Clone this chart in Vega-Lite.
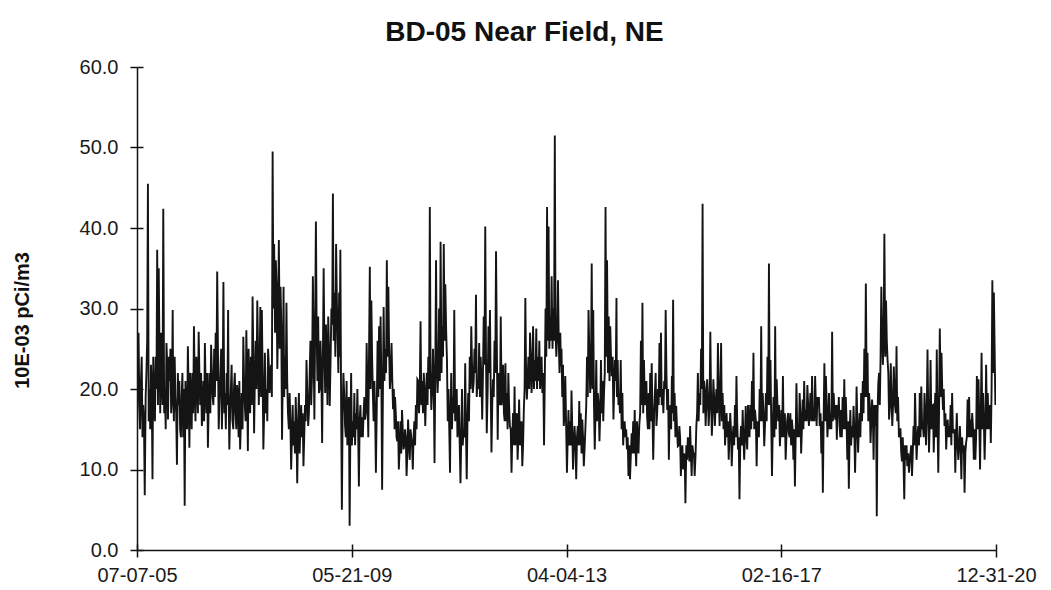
{
"$schema": "https://vega.github.io/schema/vega-lite/v6.json",
"width": 859,
"height": 483,
"autosize": {"type": "none"},
"padding": {"left": 137, "top": 67, "right": 55, "bottom": 40},
"background": "white",
"title": {"text": "BD-05 Near Field, NE", "font": "Liberation Sans", "fontSize": 28, "fontWeight": "bold", "color": "#111111", "anchor": "middle", "dx": -42, "offset": 10},
"data": {"values": [
{"d":"2005-07-07","v":14},{"d":"2005-07-12","v":22},{"d":"2005-07-17","v":27},{"d":"2005-07-22","v":19},{"d":"2005-07-27","v":15},
{"d":"2005-08-02","v":21},{"d":"2005-08-07","v":24},{"d":"2005-08-12","v":14},{"d":"2005-08-17","v":18},{"d":"2005-08-22","v":16},{"d":"2005-08-27","v":6.8},
{"d":"2005-09-02","v":19},{"d":"2005-09-07","v":22},{"d":"2005-09-12","v":26},{"d":"2005-09-17","v":45.5},{"d":"2005-09-22","v":16},{"d":"2005-09-27","v":20},
{"d":"2005-10-02","v":15},{"d":"2005-10-07","v":23},{"d":"2005-10-12","v":20},{"d":"2005-10-17","v":8.8},{"d":"2005-10-22","v":24},{"d":"2005-10-27","v":19},
{"d":"2005-11-02","v":16},{"d":"2005-11-07","v":24},{"d":"2005-11-12","v":20},{"d":"2005-11-17","v":37.3},{"d":"2005-11-22","v":18},{"d":"2005-11-27","v":35},
{"d":"2005-12-02","v":25},{"d":"2005-12-07","v":17},{"d":"2005-12-12","v":27},{"d":"2005-12-17","v":22},{"d":"2005-12-22","v":18},{"d":"2005-12-27","v":42.4},
{"d":"2006-01-02","v":17},{"d":"2006-01-07","v":20},{"d":"2006-01-12","v":15},{"d":"2006-01-17","v":25.7},{"d":"2006-01-22","v":23},{"d":"2006-01-27","v":16.2},
{"d":"2006-02-02","v":24},{"d":"2006-02-07","v":21},{"d":"2006-02-12","v":25},{"d":"2006-02-17","v":17},{"d":"2006-02-22","v":19},{"d":"2006-02-27","v":29.8},
{"d":"2006-03-02","v":20},{"d":"2006-03-07","v":16},{"d":"2006-03-12","v":24},{"d":"2006-03-17","v":19},{"d":"2006-03-22","v":17},{"d":"2006-03-27","v":10.6},
{"d":"2006-04-02","v":22},{"d":"2006-04-07","v":18},{"d":"2006-04-12","v":21},{"d":"2006-04-17","v":15},{"d":"2006-04-22","v":14},{"d":"2006-04-27","v":19},
{"d":"2006-05-02","v":22},{"d":"2006-05-07","v":14},{"d":"2006-05-12","v":20},{"d":"2006-05-17","v":5.5},{"d":"2006-05-22","v":21},{"d":"2006-05-27","v":17},
{"d":"2006-06-02","v":15},{"d":"2006-06-07","v":25.3},{"d":"2006-06-12","v":20},{"d":"2006-06-17","v":12.7},{"d":"2006-06-22","v":22},{"d":"2006-06-27","v":19},
{"d":"2006-07-02","v":15},{"d":"2006-07-07","v":22},{"d":"2006-07-12","v":17},{"d":"2006-07-17","v":27.8},{"d":"2006-07-22","v":21},{"d":"2006-07-27","v":16},
{"d":"2006-08-02","v":24},{"d":"2006-08-07","v":21},{"d":"2006-08-12","v":17},{"d":"2006-08-17","v":27.1},{"d":"2006-08-22","v":22},{"d":"2006-08-27","v":18},
{"d":"2006-09-02","v":22},{"d":"2006-09-07","v":15.4},{"d":"2006-09-12","v":17},{"d":"2006-09-17","v":21},{"d":"2006-09-22","v":16},{"d":"2006-09-27","v":25.7},
{"d":"2006-10-02","v":20},{"d":"2006-10-07","v":17},{"d":"2006-10-12","v":22},{"d":"2006-10-17","v":12.7},{"d":"2006-10-22","v":18},{"d":"2006-10-27","v":22},
{"d":"2006-11-02","v":17},{"d":"2006-11-07","v":25.5},{"d":"2006-11-12","v":22},{"d":"2006-11-17","v":19},{"d":"2006-11-22","v":18},{"d":"2006-11-27","v":25},
{"d":"2006-12-02","v":19},{"d":"2006-12-07","v":27},{"d":"2006-12-12","v":21},{"d":"2006-12-17","v":34.6},{"d":"2006-12-22","v":25},{"d":"2006-12-27","v":15},
{"d":"2007-01-02","v":19},{"d":"2007-01-07","v":22},{"d":"2007-01-12","v":25},{"d":"2007-01-17","v":15},{"d":"2007-01-22","v":20},{"d":"2007-01-27","v":33.3},
{"d":"2007-02-02","v":17},{"d":"2007-02-07","v":19.5},{"d":"2007-02-12","v":15},{"d":"2007-02-17","v":22},{"d":"2007-02-22","v":18},{"d":"2007-02-27","v":29.8},
{"d":"2007-03-02","v":20},{"d":"2007-03-07","v":12.5},{"d":"2007-03-12","v":17},{"d":"2007-03-17","v":20},{"d":"2007-03-22","v":23},{"d":"2007-03-27","v":16.2},
{"d":"2007-04-02","v":15},{"d":"2007-04-07","v":20.3},{"d":"2007-04-12","v":22},{"d":"2007-04-17","v":17},{"d":"2007-04-22","v":15},{"d":"2007-04-27","v":20.5},
{"d":"2007-05-02","v":19},{"d":"2007-05-07","v":14},{"d":"2007-05-12","v":21},{"d":"2007-05-17","v":12.5},{"d":"2007-05-22","v":16},{"d":"2007-05-27","v":19.5},
{"d":"2007-06-02","v":15},{"d":"2007-06-07","v":26.5},{"d":"2007-06-12","v":21},{"d":"2007-06-17","v":18},{"d":"2007-06-22","v":16},{"d":"2007-06-27","v":27.3},
{"d":"2007-07-02","v":21},{"d":"2007-07-07","v":12.3},{"d":"2007-07-12","v":25},{"d":"2007-07-17","v":20},{"d":"2007-07-22","v":17},{"d":"2007-07-27","v":24},
{"d":"2007-08-02","v":18},{"d":"2007-08-07","v":31.5},{"d":"2007-08-12","v":24},{"d":"2007-08-17","v":14.5},{"d":"2007-08-22","v":21},{"d":"2007-08-27","v":26},
{"d":"2007-09-02","v":20},{"d":"2007-09-07","v":31},{"d":"2007-09-12","v":25},{"d":"2007-09-17","v":18},{"d":"2007-09-22","v":22},{"d":"2007-09-27","v":30.2},
{"d":"2007-10-02","v":19},{"d":"2007-10-07","v":29.8},{"d":"2007-10-12","v":22},{"d":"2007-10-17","v":12.5},{"d":"2007-10-22","v":17},{"d":"2007-10-27","v":24.5},
{"d":"2007-11-02","v":17},{"d":"2007-11-07","v":20},{"d":"2007-11-12","v":16},{"d":"2007-11-17","v":25},{"d":"2007-11-22","v":23},{"d":"2007-11-27","v":19.5},
{"d":"2007-12-02","v":22},{"d":"2007-12-07","v":23},{"d":"2007-12-12","v":19},{"d":"2007-12-17","v":49.5},{"d":"2007-12-22","v":30},{"d":"2007-12-27","v":38},
{"d":"2008-01-02","v":27},{"d":"2008-01-07","v":36},{"d":"2008-01-12","v":33},{"d":"2008-01-17","v":22.5},{"d":"2008-01-22","v":28},{"d":"2008-01-27","v":38.5},
{"d":"2008-02-02","v":25},{"d":"2008-02-07","v":32.7},{"d":"2008-02-12","v":28},{"d":"2008-02-17","v":13.7},{"d":"2008-02-22","v":22},{"d":"2008-02-27","v":32.7},
{"d":"2008-03-02","v":19},{"d":"2008-03-07","v":24},{"d":"2008-03-12","v":20},{"d":"2008-03-17","v":30.7},{"d":"2008-03-22","v":21},{"d":"2008-03-27","v":17},
{"d":"2008-04-02","v":15},{"d":"2008-04-07","v":19.5},{"d":"2008-04-12","v":16},{"d":"2008-04-17","v":10},{"d":"2008-04-22","v":14},{"d":"2008-04-27","v":18},
{"d":"2008-05-02","v":13},{"d":"2008-05-07","v":16},{"d":"2008-05-12","v":12},{"d":"2008-05-17","v":19},{"d":"2008-05-22","v":15},{"d":"2008-05-27","v":8.3},
{"d":"2008-06-02","v":16},{"d":"2008-06-07","v":19.5},{"d":"2008-06-12","v":12},{"d":"2008-06-17","v":15.4},{"d":"2008-06-22","v":18},{"d":"2008-06-27","v":14},
{"d":"2008-07-02","v":17},{"d":"2008-07-07","v":10.4},{"d":"2008-07-12","v":14},{"d":"2008-07-17","v":18},{"d":"2008-07-22","v":16},{"d":"2008-07-27","v":23.6},
{"d":"2008-08-02","v":19},{"d":"2008-08-07","v":15.4},{"d":"2008-08-12","v":17},{"d":"2008-08-17","v":22},{"d":"2008-08-22","v":26},{"d":"2008-08-27","v":18},
{"d":"2008-09-02","v":22},{"d":"2008-09-07","v":34},{"d":"2008-09-12","v":25},{"d":"2008-09-17","v":16.2},{"d":"2008-09-22","v":28},{"d":"2008-09-27","v":40.8},
{"d":"2008-10-02","v":27},{"d":"2008-10-07","v":21},{"d":"2008-10-12","v":29},{"d":"2008-10-17","v":19.5},{"d":"2008-10-22","v":20},{"d":"2008-10-27","v":26},
{"d":"2008-11-02","v":22},{"d":"2008-11-07","v":13.3},{"d":"2008-11-12","v":24},{"d":"2008-11-17","v":35},{"d":"2008-11-22","v":25},{"d":"2008-11-27","v":19.5},
{"d":"2008-12-02","v":28},{"d":"2008-12-07","v":24},{"d":"2008-12-12","v":18},{"d":"2008-12-17","v":29},{"d":"2008-12-22","v":25},{"d":"2008-12-27","v":17.9},
{"d":"2009-01-02","v":24},{"d":"2009-01-07","v":30},{"d":"2009-01-12","v":28},{"d":"2009-01-17","v":44.3},{"d":"2009-01-22","v":26},{"d":"2009-01-27","v":32},
{"d":"2009-02-02","v":24},{"d":"2009-02-07","v":38},{"d":"2009-02-12","v":31},{"d":"2009-02-17","v":26},{"d":"2009-02-22","v":22},{"d":"2009-02-27","v":32},
{"d":"2009-03-02","v":24},{"d":"2009-03-07","v":37.3},{"d":"2009-03-12","v":18},{"d":"2009-03-17","v":5.0},{"d":"2009-03-22","v":17},{"d":"2009-03-27","v":22},
{"d":"2009-04-02","v":19},{"d":"2009-04-07","v":15.4},{"d":"2009-04-12","v":14},{"d":"2009-04-17","v":21},{"d":"2009-04-22","v":13},{"d":"2009-04-27","v":17},
{"d":"2009-05-02","v":19},{"d":"2009-05-07","v":3.0},{"d":"2009-05-12","v":15},{"d":"2009-05-17","v":22},{"d":"2009-05-22","v":13},{"d":"2009-05-27","v":16},
{"d":"2009-06-02","v":14},{"d":"2009-06-07","v":19.5},{"d":"2009-06-12","v":13},{"d":"2009-06-17","v":17},{"d":"2009-06-22","v":15},{"d":"2009-06-27","v":20},
{"d":"2009-07-02","v":15},{"d":"2009-07-07","v":7.9},{"d":"2009-07-12","v":16},{"d":"2009-07-17","v":18},{"d":"2009-07-22","v":14},{"d":"2009-07-27","v":16.5},
{"d":"2009-08-02","v":14},{"d":"2009-08-07","v":17},{"d":"2009-08-12","v":19},{"d":"2009-08-17","v":16.2},{"d":"2009-08-22","v":17},{"d":"2009-08-27","v":25.7},
{"d":"2009-09-02","v":19},{"d":"2009-09-07","v":14},{"d":"2009-09-12","v":25},{"d":"2009-09-17","v":35.2},{"d":"2009-09-22","v":20},{"d":"2009-09-27","v":31},
{"d":"2009-10-02","v":24},{"d":"2009-10-07","v":19.5},{"d":"2009-10-12","v":16},{"d":"2009-10-17","v":21},{"d":"2009-10-22","v":17},{"d":"2009-10-27","v":9.6},
{"d":"2009-11-02","v":18},{"d":"2009-11-07","v":26},{"d":"2009-11-12","v":19},{"d":"2009-11-17","v":27.8},{"d":"2009-11-22","v":20},{"d":"2009-11-27","v":29},
{"d":"2009-12-02","v":21},{"d":"2009-12-07","v":7.5},{"d":"2009-12-12","v":19},{"d":"2009-12-17","v":30.2},{"d":"2009-12-22","v":21},{"d":"2009-12-27","v":25},
{"d":"2010-01-02","v":22},{"d":"2010-01-07","v":36},{"d":"2010-01-12","v":24},{"d":"2010-01-17","v":32.7},{"d":"2010-01-22","v":25},{"d":"2010-01-27","v":20},
{"d":"2010-02-02","v":22},{"d":"2010-02-07","v":25.7},{"d":"2010-02-12","v":21},{"d":"2010-02-17","v":17.5},{"d":"2010-02-22","v":20},{"d":"2010-02-27","v":15},
{"d":"2010-03-02","v":19},{"d":"2010-03-07","v":17},{"d":"2010-03-12","v":14},{"d":"2010-03-17","v":13.5},{"d":"2010-03-22","v":16},{"d":"2010-03-27","v":10},
{"d":"2010-04-02","v":13},{"d":"2010-04-07","v":16},{"d":"2010-04-12","v":12},{"d":"2010-04-17","v":17.4},{"d":"2010-04-22","v":15},{"d":"2010-04-27","v":12.5},
{"d":"2010-05-02","v":13},{"d":"2010-05-07","v":15},{"d":"2010-05-12","v":14},{"d":"2010-05-17","v":9.2},{"d":"2010-05-22","v":12},{"d":"2010-05-27","v":16.2},
{"d":"2010-06-02","v":13},{"d":"2010-06-07","v":11.2},{"d":"2010-06-12","v":15},{"d":"2010-06-17","v":14},{"d":"2010-06-22","v":13},{"d":"2010-06-27","v":10},
{"d":"2010-07-02","v":14},{"d":"2010-07-07","v":16},{"d":"2010-07-12","v":13},{"d":"2010-07-17","v":18},{"d":"2010-07-22","v":15},{"d":"2010-07-27","v":21.2},
{"d":"2010-08-02","v":21},{"d":"2010-08-07","v":17},{"d":"2010-08-12","v":20},{"d":"2010-08-17","v":28.4},{"d":"2010-08-22","v":18},{"d":"2010-08-27","v":21},
{"d":"2010-09-02","v":17},{"d":"2010-09-07","v":22},{"d":"2010-09-12","v":20},{"d":"2010-09-17","v":15.4},{"d":"2010-09-22","v":19},{"d":"2010-09-27","v":22},
{"d":"2010-10-02","v":18},{"d":"2010-10-07","v":24},{"d":"2010-10-12","v":20},{"d":"2010-10-17","v":42.6},{"d":"2010-10-22","v":22},{"d":"2010-10-27","v":17.4},
{"d":"2010-11-02","v":20},{"d":"2010-11-07","v":25},{"d":"2010-11-12","v":21},{"d":"2010-11-17","v":10.8},{"d":"2010-11-22","v":22},{"d":"2010-11-27","v":36},
{"d":"2010-12-02","v":23},{"d":"2010-12-07","v":19.5},{"d":"2010-12-12","v":22},{"d":"2010-12-17","v":30},{"d":"2010-12-22","v":21},{"d":"2010-12-27","v":38.3},
{"d":"2011-01-02","v":22},{"d":"2011-01-07","v":27.8},{"d":"2011-01-12","v":24},{"d":"2011-01-17","v":38},{"d":"2011-01-22","v":26},{"d":"2011-01-27","v":33},
{"d":"2011-02-02","v":27},{"d":"2011-02-07","v":23.6},{"d":"2011-02-12","v":16},{"d":"2011-02-17","v":20},{"d":"2011-02-22","v":15},{"d":"2011-02-27","v":9.6},
{"d":"2011-03-02","v":16},{"d":"2011-03-07","v":22},{"d":"2011-03-12","v":15},{"d":"2011-03-17","v":19},{"d":"2011-03-22","v":17},{"d":"2011-03-27","v":29.8},
{"d":"2011-04-02","v":16},{"d":"2011-04-07","v":19.5},{"d":"2011-04-12","v":20},{"d":"2011-04-17","v":14},{"d":"2011-04-22","v":16},{"d":"2011-04-27","v":18},
{"d":"2011-05-02","v":13},{"d":"2011-05-07","v":8.3},{"d":"2011-05-12","v":14},{"d":"2011-05-17","v":20},{"d":"2011-05-22","v":13},{"d":"2011-05-27","v":15},
{"d":"2011-06-02","v":14},{"d":"2011-06-07","v":23.2},{"d":"2011-06-12","v":15},{"d":"2011-06-17","v":8.8},{"d":"2011-06-22","v":16},{"d":"2011-06-27","v":19.5},
{"d":"2011-07-02","v":16},{"d":"2011-07-07","v":24},{"d":"2011-07-12","v":20},{"d":"2011-07-17","v":27.8},{"d":"2011-07-22","v":23},{"d":"2011-07-27","v":19.5},
{"d":"2011-08-02","v":21},{"d":"2011-08-07","v":25},{"d":"2011-08-12","v":22},{"d":"2011-08-17","v":31.7},{"d":"2011-08-22","v":19},{"d":"2011-08-27","v":21},
{"d":"2011-09-02","v":20},{"d":"2011-09-07","v":25.7},{"d":"2011-09-12","v":19},{"d":"2011-09-17","v":24},{"d":"2011-09-22","v":21},{"d":"2011-09-27","v":16.2},
{"d":"2011-10-02","v":22},{"d":"2011-10-07","v":29},{"d":"2011-10-12","v":23},{"d":"2011-10-17","v":40.2},{"d":"2011-10-22","v":24},{"d":"2011-10-27","v":14.5},
{"d":"2011-11-02","v":20},{"d":"2011-11-07","v":27.8},{"d":"2011-11-12","v":22},{"d":"2011-11-17","v":29.8},{"d":"2011-11-22","v":20},{"d":"2011-11-27","v":12.1},
{"d":"2011-12-02","v":18},{"d":"2011-12-07","v":21.2},{"d":"2011-12-12","v":19},{"d":"2011-12-17","v":26},{"d":"2011-12-22","v":22},{"d":"2011-12-27","v":37.1},
{"d":"2012-01-02","v":24},{"d":"2012-01-07","v":13.7},{"d":"2012-01-12","v":22},{"d":"2012-01-17","v":20},{"d":"2012-01-22","v":18},{"d":"2012-01-27","v":29},
{"d":"2012-02-02","v":18},{"d":"2012-02-07","v":20},{"d":"2012-02-12","v":23},{"d":"2012-02-17","v":17},{"d":"2012-02-22","v":16},{"d":"2012-02-27","v":23.2},
{"d":"2012-03-02","v":16},{"d":"2012-03-07","v":19.5},{"d":"2012-03-12","v":15},{"d":"2012-03-17","v":22},{"d":"2012-03-22","v":18},{"d":"2012-03-27","v":15.4},
{"d":"2012-04-02","v":15},{"d":"2012-04-07","v":9.6},{"d":"2012-04-12","v":14},{"d":"2012-04-17","v":17},{"d":"2012-04-22","v":13},{"d":"2012-04-27","v":20.3},
{"d":"2012-05-02","v":13},{"d":"2012-05-07","v":15.4},{"d":"2012-05-12","v":17},{"d":"2012-05-17","v":11.2},{"d":"2012-05-22","v":14},{"d":"2012-05-27","v":18.7},
{"d":"2012-06-02","v":13},{"d":"2012-06-07","v":14},{"d":"2012-06-12","v":16},{"d":"2012-06-17","v":10.4},{"d":"2012-06-22","v":13},{"d":"2012-06-27","v":17.4},
{"d":"2012-07-02","v":20},{"d":"2012-07-07","v":31.3},{"d":"2012-07-12","v":22},{"d":"2012-07-17","v":18.7},{"d":"2012-07-22","v":21},{"d":"2012-07-27","v":24},
{"d":"2012-08-02","v":20},{"d":"2012-08-07","v":27},{"d":"2012-08-12","v":24},{"d":"2012-08-17","v":19.5},{"d":"2012-08-22","v":22},{"d":"2012-08-27","v":27.8},
{"d":"2012-09-02","v":20},{"d":"2012-09-07","v":23.6},{"d":"2012-09-12","v":21},{"d":"2012-09-17","v":27.5},{"d":"2012-09-22","v":20},{"d":"2012-09-27","v":24},
{"d":"2012-10-02","v":21},{"d":"2012-10-07","v":26},{"d":"2012-10-12","v":20},{"d":"2012-10-17","v":22},{"d":"2012-10-22","v":24},{"d":"2012-10-27","v":19.5},
{"d":"2012-11-02","v":22},{"d":"2012-11-07","v":13},{"d":"2012-11-12","v":21},{"d":"2012-11-17","v":30},{"d":"2012-11-22","v":24},{"d":"2012-11-27","v":42.6},
{"d":"2012-12-02","v":26},{"d":"2012-12-07","v":40.2},{"d":"2012-12-12","v":25},{"d":"2012-12-17","v":29},{"d":"2012-12-22","v":26},{"d":"2012-12-27","v":34},
{"d":"2013-01-02","v":25},{"d":"2013-01-07","v":30},{"d":"2013-01-12","v":26},{"d":"2013-01-17","v":51.5},{"d":"2013-01-22","v":27},{"d":"2013-01-27","v":24},
{"d":"2013-02-02","v":27},{"d":"2013-02-07","v":33.5},{"d":"2013-02-12","v":26},{"d":"2013-02-17","v":22},{"d":"2013-02-22","v":27},{"d":"2013-02-27","v":22.8},
{"d":"2013-03-02","v":25},{"d":"2013-03-07","v":19},{"d":"2013-03-12","v":23},{"d":"2013-03-17","v":15.4},{"d":"2013-03-22","v":17},{"d":"2013-03-27","v":21.6},
{"d":"2013-04-02","v":15},{"d":"2013-04-07","v":9.6},{"d":"2013-04-12","v":14},{"d":"2013-04-17","v":17.4},{"d":"2013-04-22","v":13},{"d":"2013-04-27","v":16},
{"d":"2013-05-02","v":13},{"d":"2013-05-07","v":19.8},{"d":"2013-05-12","v":15},{"d":"2013-05-17","v":10},{"d":"2013-05-22","v":13},{"d":"2013-05-27","v":15.4},
{"d":"2013-06-02","v":13},{"d":"2013-06-07","v":8.8},{"d":"2013-06-12","v":14},{"d":"2013-06-17","v":15.4},{"d":"2013-06-22","v":13},{"d":"2013-06-27","v":18.5},
{"d":"2013-07-02","v":13},{"d":"2013-07-07","v":17},{"d":"2013-07-12","v":12},{"d":"2013-07-17","v":16.2},{"d":"2013-07-22","v":14},{"d":"2013-07-27","v":10.4},
{"d":"2013-08-02","v":13},{"d":"2013-08-07","v":15.4},{"d":"2013-08-12","v":18},{"d":"2013-08-17","v":24},{"d":"2013-08-22","v":19},{"d":"2013-08-27","v":29.8},
{"d":"2013-09-02","v":24},{"d":"2013-09-07","v":19.5},{"d":"2013-09-12","v":22},{"d":"2013-09-17","v":35.6},{"d":"2013-09-22","v":20},{"d":"2013-09-27","v":29.8},
{"d":"2013-10-02","v":18},{"d":"2013-10-07","v":12.5},{"d":"2013-10-12","v":17},{"d":"2013-10-17","v":23.6},{"d":"2013-10-22","v":16},{"d":"2013-10-27","v":19.5},
{"d":"2013-11-02","v":18},{"d":"2013-11-07","v":13.5},{"d":"2013-11-12","v":17},{"d":"2013-11-17","v":23.6},{"d":"2013-11-22","v":17},{"d":"2013-11-27","v":21},
{"d":"2013-12-02","v":16},{"d":"2013-12-07","v":19.5},{"d":"2013-12-12","v":22},{"d":"2013-12-17","v":42.6},{"d":"2013-12-22","v":24},{"d":"2013-12-27","v":36},
{"d":"2014-01-02","v":22},{"d":"2014-01-07","v":29},{"d":"2014-01-12","v":21},{"d":"2014-01-17","v":27.8},{"d":"2014-01-22","v":24},{"d":"2014-01-27","v":21.6},
{"d":"2014-02-02","v":24},{"d":"2014-02-07","v":16.2},{"d":"2014-02-12","v":20},{"d":"2014-02-17","v":23.6},{"d":"2014-02-22","v":21},{"d":"2014-02-27","v":31.3},
{"d":"2014-03-02","v":19},{"d":"2014-03-07","v":23.6},{"d":"2014-03-12","v":18},{"d":"2014-03-17","v":19.5},{"d":"2014-03-22","v":17},{"d":"2014-03-27","v":23.6},
{"d":"2014-04-02","v":15},{"d":"2014-04-07","v":19.5},{"d":"2014-04-12","v":13},{"d":"2014-04-17","v":15.4},{"d":"2014-04-22","v":16},{"d":"2014-04-27","v":14},
{"d":"2014-05-02","v":15},{"d":"2014-05-07","v":12.5},{"d":"2014-05-12","v":14},{"d":"2014-05-17","v":9.2},{"d":"2014-05-22","v":13},{"d":"2014-05-27","v":8.8},
{"d":"2014-06-02","v":12},{"d":"2014-06-07","v":14.5},{"d":"2014-06-12","v":12},{"d":"2014-06-17","v":16},{"d":"2014-06-22","v":12},{"d":"2014-06-27","v":17.4},
{"d":"2014-07-02","v":13},{"d":"2014-07-07","v":10.4},{"d":"2014-07-12","v":16},{"d":"2014-07-17","v":14},{"d":"2014-07-22","v":12},{"d":"2014-07-27","v":15.4},
{"d":"2014-08-02","v":17},{"d":"2014-08-07","v":26},{"d":"2014-08-12","v":18},{"d":"2014-08-17","v":30.7},{"d":"2014-08-22","v":17},{"d":"2014-08-27","v":23.6},
{"d":"2014-09-02","v":18},{"d":"2014-09-07","v":19.5},{"d":"2014-09-12","v":21},{"d":"2014-09-17","v":16.5},{"d":"2014-09-22","v":15},{"d":"2014-09-27","v":19.5},
{"d":"2014-10-02","v":15},{"d":"2014-10-07","v":22},{"d":"2014-10-12","v":16},{"d":"2014-10-17","v":23.2},{"d":"2014-10-22","v":17},{"d":"2014-10-27","v":11.2},
{"d":"2014-11-02","v":17},{"d":"2014-11-07","v":19.5},{"d":"2014-11-12","v":22},{"d":"2014-11-17","v":15.4},{"d":"2014-11-22","v":17},{"d":"2014-11-27","v":20},
{"d":"2014-12-02","v":18},{"d":"2014-12-07","v":25.7},{"d":"2014-12-12","v":19},{"d":"2014-12-17","v":27},{"d":"2014-12-22","v":18},{"d":"2014-12-27","v":20},
{"d":"2015-01-02","v":17},{"d":"2015-01-07","v":21},{"d":"2015-01-12","v":20},{"d":"2015-01-17","v":29.8},{"d":"2015-01-22","v":22},{"d":"2015-01-27","v":17.4},
{"d":"2015-02-02","v":20},{"d":"2015-02-07","v":11.2},{"d":"2015-02-12","v":17},{"d":"2015-02-17","v":18},{"d":"2015-02-22","v":15},{"d":"2015-02-27","v":21.6},
{"d":"2015-03-02","v":17},{"d":"2015-03-07","v":31.1},{"d":"2015-03-12","v":16},{"d":"2015-03-17","v":19.5},{"d":"2015-03-22","v":14},{"d":"2015-03-27","v":17.9},
{"d":"2015-04-02","v":15},{"d":"2015-04-07","v":12.9},{"d":"2015-04-12","v":13},{"d":"2015-04-17","v":15.4},{"d":"2015-04-22","v":14},{"d":"2015-04-27","v":9.2},
{"d":"2015-05-02","v":12},{"d":"2015-05-07","v":13},{"d":"2015-05-12","v":10},{"d":"2015-05-17","v":11.5},{"d":"2015-05-22","v":12},{"d":"2015-05-27","v":5.8},
{"d":"2015-06-02","v":13},{"d":"2015-06-07","v":11.2},{"d":"2015-06-12","v":14},{"d":"2015-06-17","v":13},{"d":"2015-06-22","v":11},{"d":"2015-06-27","v":15.4},
{"d":"2015-07-02","v":12},{"d":"2015-07-07","v":9.2},{"d":"2015-07-12","v":13},{"d":"2015-07-17","v":12.1},{"d":"2015-07-22","v":12},{"d":"2015-07-27","v":9.2},
{"d":"2015-08-02","v":12},{"d":"2015-08-07","v":15.4},{"d":"2015-08-12","v":17},{"d":"2015-08-17","v":22},{"d":"2015-08-22","v":16},{"d":"2015-08-27","v":19.5},
{"d":"2015-09-02","v":18},{"d":"2015-09-07","v":25},{"d":"2015-09-12","v":20},{"d":"2015-09-17","v":43},{"d":"2015-09-22","v":17},{"d":"2015-09-27","v":21},
{"d":"2015-10-02","v":20},{"d":"2015-10-07","v":15.4},{"d":"2015-10-12","v":18},{"d":"2015-10-17","v":21.2},{"d":"2015-10-22","v":19},{"d":"2015-10-27","v":15.4},
{"d":"2015-11-02","v":18},{"d":"2015-11-07","v":27.1},{"d":"2015-11-12","v":19},{"d":"2015-11-17","v":14.2},{"d":"2015-11-22","v":17},{"d":"2015-11-27","v":21.2},
{"d":"2015-12-02","v":19},{"d":"2015-12-07","v":15.4},{"d":"2015-12-12","v":18},{"d":"2015-12-17","v":20},{"d":"2015-12-22","v":17},{"d":"2015-12-27","v":25.7},
{"d":"2016-01-02","v":19},{"d":"2016-01-07","v":15.4},{"d":"2016-01-12","v":20},{"d":"2016-01-17","v":25.7},{"d":"2016-01-22","v":16},{"d":"2016-01-27","v":19.5},
{"d":"2016-02-02","v":15},{"d":"2016-02-07","v":18},{"d":"2016-02-12","v":13},{"d":"2016-02-17","v":15.4},{"d":"2016-02-22","v":17},{"d":"2016-02-27","v":14},
{"d":"2016-03-02","v":16},{"d":"2016-03-07","v":11.2},{"d":"2016-03-12","v":14},{"d":"2016-03-17","v":17},{"d":"2016-03-22","v":15},{"d":"2016-03-27","v":10.4},
{"d":"2016-04-02","v":14},{"d":"2016-04-07","v":15.4},{"d":"2016-04-12","v":13},{"d":"2016-04-17","v":18},{"d":"2016-04-22","v":14},{"d":"2016-04-27","v":21.6},
{"d":"2016-05-02","v":16},{"d":"2016-05-07","v":12.5},{"d":"2016-05-12","v":14},{"d":"2016-05-17","v":6.3},{"d":"2016-05-22","v":13},{"d":"2016-05-27","v":15.4},
{"d":"2016-06-02","v":13},{"d":"2016-06-07","v":17.4},{"d":"2016-06-12","v":14},{"d":"2016-06-17","v":11.2},{"d":"2016-06-22","v":14},{"d":"2016-06-27","v":17.9},
{"d":"2016-07-02","v":14},{"d":"2016-07-07","v":12.5},{"d":"2016-07-12","v":18},{"d":"2016-07-17","v":15.4},{"d":"2016-07-22","v":14},{"d":"2016-07-27","v":18},
{"d":"2016-08-02","v":15},{"d":"2016-08-07","v":21},{"d":"2016-08-12","v":16},{"d":"2016-08-17","v":24.5},{"d":"2016-08-22","v":15},{"d":"2016-08-27","v":17.4},
{"d":"2016-09-02","v":16},{"d":"2016-09-07","v":10.4},{"d":"2016-09-12","v":16},{"d":"2016-09-17","v":15.4},{"d":"2016-09-22","v":14},{"d":"2016-09-27","v":20},
{"d":"2016-10-02","v":16},{"d":"2016-10-07","v":27.8},{"d":"2016-10-12","v":16},{"d":"2016-10-17","v":19.5},{"d":"2016-10-22","v":17},{"d":"2016-10-27","v":12.9},
{"d":"2016-11-02","v":16},{"d":"2016-11-07","v":19.5},{"d":"2016-11-12","v":16},{"d":"2016-11-17","v":24},{"d":"2016-11-22","v":18},{"d":"2016-11-27","v":35.6},
{"d":"2016-12-02","v":18},{"d":"2016-12-07","v":23.6},{"d":"2016-12-12","v":16},{"d":"2016-12-17","v":9.2},{"d":"2016-12-22","v":15},{"d":"2016-12-27","v":19},
{"d":"2017-01-02","v":14},{"d":"2017-01-07","v":27.8},{"d":"2017-01-12","v":15},{"d":"2017-01-17","v":21.2},{"d":"2017-01-22","v":18},{"d":"2017-01-27","v":16},
{"d":"2017-02-02","v":18},{"d":"2017-02-07","v":12.9},{"d":"2017-02-12","v":15},{"d":"2017-02-17","v":17.4},{"d":"2017-02-22","v":14},{"d":"2017-02-27","v":21.6},
{"d":"2017-03-02","v":17},{"d":"2017-03-07","v":14},{"d":"2017-03-12","v":17},{"d":"2017-03-17","v":11.2},{"d":"2017-03-22","v":14},{"d":"2017-03-27","v":16},
{"d":"2017-04-02","v":17},{"d":"2017-04-07","v":14.5},{"d":"2017-04-12","v":14},{"d":"2017-04-17","v":17},{"d":"2017-04-22","v":13},{"d":"2017-04-27","v":16.2},
{"d":"2017-05-02","v":15},{"d":"2017-05-07","v":11.2},{"d":"2017-05-12","v":15},{"d":"2017-05-17","v":7.9},{"d":"2017-05-22","v":14},{"d":"2017-05-27","v":20.7},
{"d":"2017-06-02","v":14},{"d":"2017-06-07","v":15.4},{"d":"2017-06-12","v":14},{"d":"2017-06-17","v":19.5},{"d":"2017-06-22","v":17},{"d":"2017-06-27","v":12},
{"d":"2017-07-02","v":15},{"d":"2017-07-07","v":18.7},{"d":"2017-07-12","v":15},{"d":"2017-07-17","v":21},{"d":"2017-07-22","v":16},{"d":"2017-07-27","v":17.4},
{"d":"2017-08-02","v":16},{"d":"2017-08-07","v":20.5},{"d":"2017-08-12","v":18},{"d":"2017-08-17","v":15.4},{"d":"2017-08-22","v":17},{"d":"2017-08-27","v":19.5},
{"d":"2017-09-02","v":16},{"d":"2017-09-07","v":21.6},{"d":"2017-09-12","v":16},{"d":"2017-09-17","v":17.4},{"d":"2017-09-22","v":16},{"d":"2017-09-27","v":21.6},
{"d":"2017-10-02","v":18},{"d":"2017-10-07","v":15.4},{"d":"2017-10-12","v":19},{"d":"2017-10-17","v":17.9},{"d":"2017-10-22","v":19},{"d":"2017-10-27","v":15.4},
{"d":"2017-11-02","v":17},{"d":"2017-11-07","v":12},{"d":"2017-11-12","v":16},{"d":"2017-11-17","v":7.1},{"d":"2017-11-22","v":16},{"d":"2017-11-27","v":23.2},
{"d":"2017-12-02","v":16},{"d":"2017-12-07","v":21.6},{"d":"2017-12-12","v":18},{"d":"2017-12-17","v":14},{"d":"2017-12-22","v":16},{"d":"2017-12-27","v":19.5},
{"d":"2018-01-02","v":15},{"d":"2018-01-07","v":17},{"d":"2018-01-12","v":15},{"d":"2018-01-17","v":27.1},{"d":"2018-01-22","v":16},{"d":"2018-01-27","v":19.5},
{"d":"2018-02-02","v":17},{"d":"2018-02-07","v":16.2},{"d":"2018-02-12","v":18},{"d":"2018-02-17","v":13.7},{"d":"2018-02-22","v":18},{"d":"2018-02-27","v":17},
{"d":"2018-03-02","v":19},{"d":"2018-03-07","v":15.4},{"d":"2018-03-12","v":14},{"d":"2018-03-17","v":17.4},{"d":"2018-03-22","v":14},{"d":"2018-03-27","v":19},
{"d":"2018-04-02","v":15},{"d":"2018-04-07","v":21.2},{"d":"2018-04-12","v":15},{"d":"2018-04-17","v":19},{"d":"2018-04-22","v":16},{"d":"2018-04-27","v":11.2},
{"d":"2018-05-02","v":16},{"d":"2018-05-07","v":7.6},{"d":"2018-05-12","v":14},{"d":"2018-05-17","v":17.4},{"d":"2018-05-22","v":13},{"d":"2018-05-27","v":15.4},
{"d":"2018-06-02","v":14},{"d":"2018-06-07","v":17.9},{"d":"2018-06-12","v":15},{"d":"2018-06-17","v":9.6},{"d":"2018-06-22","v":14},{"d":"2018-06-27","v":20.3},
{"d":"2018-07-02","v":16},{"d":"2018-07-07","v":12.1},{"d":"2018-07-12","v":15},{"d":"2018-07-17","v":17},{"d":"2018-07-22","v":14},{"d":"2018-07-27","v":19.5},
{"d":"2018-08-02","v":16},{"d":"2018-08-07","v":21},{"d":"2018-08-12","v":17},{"d":"2018-08-17","v":25},{"d":"2018-08-22","v":19},{"d":"2018-08-27","v":33.1},
{"d":"2018-09-02","v":19},{"d":"2018-09-07","v":24.5},{"d":"2018-09-12","v":16},{"d":"2018-09-17","v":19.5},{"d":"2018-09-22","v":18},{"d":"2018-09-27","v":13.3},
{"d":"2018-10-02","v":16},{"d":"2018-10-07","v":18.7},{"d":"2018-10-12","v":17},{"d":"2018-10-17","v":11.2},{"d":"2018-10-22","v":18},{"d":"2018-10-27","v":15.4},
{"d":"2018-11-02","v":18},{"d":"2018-11-07","v":4.2},{"d":"2018-11-12","v":17},{"d":"2018-11-17","v":20.7},{"d":"2018-11-22","v":22},{"d":"2018-11-27","v":18},
{"d":"2018-12-02","v":24},{"d":"2018-12-07","v":32.7},{"d":"2018-12-12","v":27},{"d":"2018-12-17","v":23},{"d":"2018-12-22","v":26},{"d":"2018-12-27","v":39.3},
{"d":"2019-01-02","v":24},{"d":"2019-01-07","v":31},{"d":"2019-01-12","v":26},{"d":"2019-01-17","v":23.6},{"d":"2019-01-22","v":22},{"d":"2019-01-27","v":16.2},
{"d":"2019-02-02","v":18},{"d":"2019-02-07","v":23.2},{"d":"2019-02-12","v":19},{"d":"2019-02-17","v":15.4},{"d":"2019-02-22","v":18},{"d":"2019-02-27","v":22.8},
{"d":"2019-03-02","v":21},{"d":"2019-03-07","v":18},{"d":"2019-03-12","v":17},{"d":"2019-03-17","v":25.3},{"d":"2019-03-22","v":16},{"d":"2019-03-27","v":19},
{"d":"2019-04-02","v":14},{"d":"2019-04-07","v":15},{"d":"2019-04-12","v":15},{"d":"2019-04-17","v":12.1},{"d":"2019-04-22","v":11},{"d":"2019-04-27","v":14},
{"d":"2019-05-02","v":11},{"d":"2019-05-07","v":6.3},{"d":"2019-05-12","v":13},{"d":"2019-05-17","v":11.2},{"d":"2019-05-22","v":13},{"d":"2019-05-27","v":10.4},
{"d":"2019-06-02","v":12},{"d":"2019-06-07","v":9.6},{"d":"2019-06-12","v":11},{"d":"2019-06-17","v":12},{"d":"2019-06-22","v":13},{"d":"2019-06-27","v":9.2},
{"d":"2019-07-02","v":12},{"d":"2019-07-07","v":15.4},{"d":"2019-07-12","v":13},{"d":"2019-07-17","v":19.5},{"d":"2019-07-22","v":15},{"d":"2019-07-27","v":11.2},
{"d":"2019-08-02","v":14},{"d":"2019-08-07","v":15.4},{"d":"2019-08-12","v":13},{"d":"2019-08-17","v":19.5},{"d":"2019-08-22","v":14},{"d":"2019-08-27","v":20.3},
{"d":"2019-09-02","v":15},{"d":"2019-09-07","v":15.4},{"d":"2019-09-12","v":14},{"d":"2019-09-17","v":19.5},{"d":"2019-09-22","v":17},{"d":"2019-09-27","v":13},
{"d":"2019-10-02","v":17},{"d":"2019-10-07","v":24.9},{"d":"2019-10-12","v":17},{"d":"2019-10-17","v":12.1},{"d":"2019-10-22","v":16},{"d":"2019-10-27","v":23.6},
{"d":"2019-11-02","v":15},{"d":"2019-11-07","v":17.9},{"d":"2019-11-12","v":18},{"d":"2019-11-17","v":12.1},{"d":"2019-11-22","v":16},{"d":"2019-11-27","v":19.5},
{"d":"2019-12-02","v":14},{"d":"2019-12-07","v":24.9},{"d":"2019-12-12","v":16},{"d":"2019-12-17","v":9.6},{"d":"2019-12-22","v":17},{"d":"2019-12-27","v":27.5},
{"d":"2020-01-02","v":19},{"d":"2020-01-07","v":24.5},{"d":"2020-01-12","v":20},{"d":"2020-01-17","v":17.4},{"d":"2020-01-22","v":20},{"d":"2020-01-27","v":15.4},
{"d":"2020-02-02","v":17},{"d":"2020-02-07","v":12.5},{"d":"2020-02-12","v":15},{"d":"2020-02-17","v":16.2},{"d":"2020-02-22","v":14},{"d":"2020-02-27","v":15.4},
{"d":"2020-03-02","v":14},{"d":"2020-03-07","v":18},{"d":"2020-03-12","v":13},{"d":"2020-03-17","v":19.5},{"d":"2020-03-22","v":15},{"d":"2020-03-27","v":14.5},
{"d":"2020-04-02","v":15},{"d":"2020-04-07","v":9.6},{"d":"2020-04-12","v":14},{"d":"2020-04-17","v":17},{"d":"2020-04-22","v":13},{"d":"2020-04-27","v":11.2},
{"d":"2020-05-02","v":13},{"d":"2020-05-07","v":15.4},{"d":"2020-05-12","v":13},{"d":"2020-05-17","v":8.8},{"d":"2020-05-22","v":14},{"d":"2020-05-27","v":12.1},
{"d":"2020-06-02","v":13},{"d":"2020-06-07","v":7.1},{"d":"2020-06-12","v":12},{"d":"2020-06-17","v":13.3},{"d":"2020-06-22","v":14},{"d":"2020-06-27","v":18.7},
{"d":"2020-07-02","v":14},{"d":"2020-07-07","v":19},{"d":"2020-07-12","v":14},{"d":"2020-07-17","v":16.2},{"d":"2020-07-22","v":14},{"d":"2020-07-27","v":17},
{"d":"2020-08-02","v":15},{"d":"2020-08-07","v":11.2},{"d":"2020-08-12","v":15},{"d":"2020-08-17","v":11.2},{"d":"2020-08-22","v":14},{"d":"2020-08-27","v":21.6},
{"d":"2020-09-02","v":15},{"d":"2020-09-07","v":21.2},{"d":"2020-09-12","v":16},{"d":"2020-09-17","v":10},{"d":"2020-09-22","v":17},{"d":"2020-09-27","v":24.5},
{"d":"2020-10-02","v":15},{"d":"2020-10-07","v":19.5},{"d":"2020-10-12","v":16},{"d":"2020-10-17","v":11.2},{"d":"2020-10-22","v":15},{"d":"2020-10-27","v":23},
{"d":"2020-11-02","v":15},{"d":"2020-11-07","v":19.5},{"d":"2020-11-12","v":15},{"d":"2020-11-17","v":17.4},{"d":"2020-11-22","v":18},{"d":"2020-11-27","v":13.3},
{"d":"2020-12-02","v":20},{"d":"2020-12-07","v":33.5},{"d":"2020-12-12","v":22},{"d":"2020-12-17","v":32},{"d":"2020-12-22","v":25},{"d":"2020-12-27","v":18}
]},
"mark": {"type": "line", "color": "#141414", "strokeWidth": 1.9, "clip": true},
"encoding": {
  "x": {
    "field": "d", "type": "temporal",
    "scale": {"type": "utc", "domain": [{"year": 2005, "month": 7, "date": 7, "utc": true}, {"year": 2020, "month": 12, "date": 31, "utc": true}]},
    "axis": {
      "title": null,
      "values": [
        {"year": 2005, "month": 7, "date": 7, "utc": true},
        {"year": 2009, "month": 5, "date": 21, "utc": true},
        {"year": 2013, "month": 4, "date": 4, "utc": true},
        {"year": 2017, "month": 2, "date": 16, "utc": true},
        {"year": 2020, "month": 12, "date": 31, "utc": true}
      ],
      "format": "%m-%d-%y",
      "labelPadding": 8,
      "labelFlush": false,
      "labelOverlap": false,
      "gridDash": [0, 477, 6, 3000]
    }
  },
  "y": {
    "field": "v", "type": "quantitative",
    "scale": {"domain": [0, 60], "nice": false, "zero": true},
    "axis": {
      "values": [0, 10, 20, 30, 40, 50, 60],
      "format": ".1f",
      "title": "10E-03 pCi/m3",
      "titleX": -115,
      "titleY": 253,
      "titleAngle": -90,
      "titleAlign": "center",
      "titleBaseline": "middle",
      "titleFont": "Liberation Sans",
      "titleFontSize": 20,
      "titleFontWeight": "bold",
      "titleColor": "#111111",
      "labelPadding": 12,
      "gridDash": [6, 3000]
    }
  }
},
"config": {
  "view": {"stroke": null},
  "axis": {
    "domainColor": "#111111",
    "domainWidth": 1.5,
    "tickColor": "#111111",
    "tickWidth": 1.5,
    "tickSize": 7,
    "labelFont": "Liberation Sans",
    "labelFontSize": 20,
    "labelColor": "#1a1a1a",
    "grid": true,
    "gridColor": "#111111",
    "gridWidth": 1.5,
    "gridOpacity": 1
  }
}
}
